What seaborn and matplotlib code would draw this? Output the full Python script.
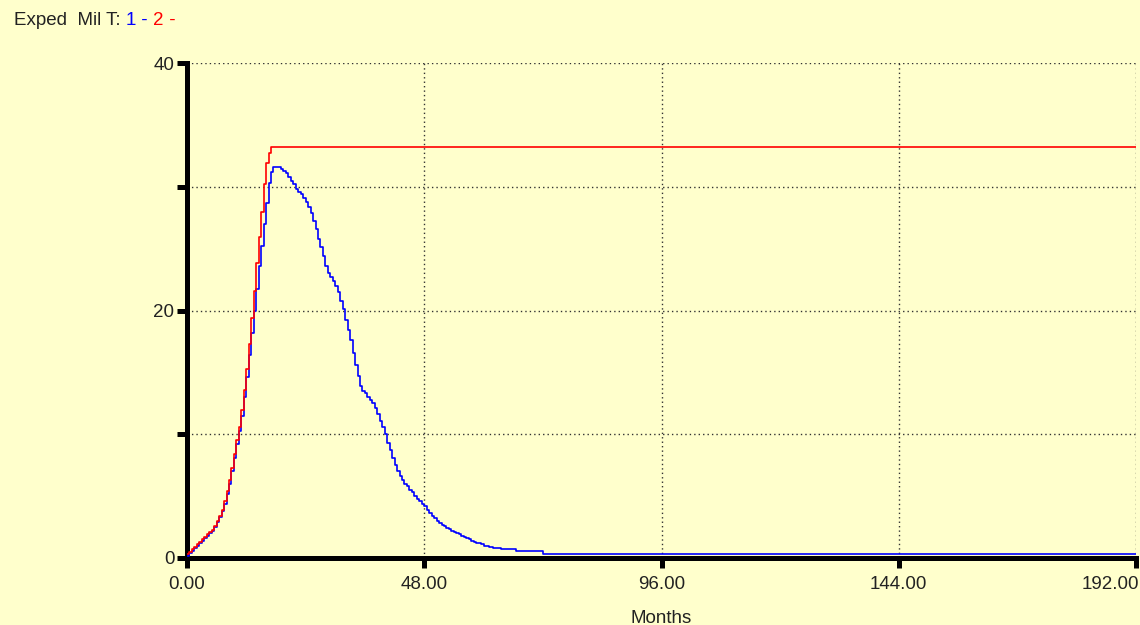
import numpy as np
import pandas as pd
import matplotlib
matplotlib.use("Agg")
import matplotlib.pyplot as plt
import matplotlib.transforms as mtransforms
import seaborn as sns

# ---------------- data ----------------
red_months = [0, 0.5, 1, 1.5, 2, 2.5, 3, 3.5, 4, 4.5, 5, 5.5, 6, 6.5, 7, 7.5, 8, 8.5,
              9, 9.5, 10, 10.5, 11, 11.5, 12, 12.5, 13, 13.5, 14, 14.5, 15, 15.5,
              16, 16.5, 17, 192]
red_values = [0.3, 0.5, 0.7, 0.9, 1.1, 1.3, 1.5, 1.7, 1.9, 2.1, 2.3, 2.6, 3.0, 3.4,
              3.9, 4.6, 5.4, 6.3, 7.3, 8.4, 9.5, 10.6, 12.0, 13.6, 15.3, 17.3, 19.4,
              21.6, 23.8, 25.9, 28.0, 30.2, 31.9, 32.7, 33.2, 33.2]

blue_months = [0, 0.5, 1, 1.5, 2, 2.5, 3, 3.5, 4, 4.5, 5, 5.5, 6, 6.5, 7, 7.5, 8, 8.5,
               9, 9.5, 10, 10.5, 11, 11.5, 12, 12.5, 13, 13.5, 14, 14.5, 15, 15.5,
               16, 16.5, 17, 17.5, 18, 18.5, 19, 19.5, 20, 20.5, 21, 21.5, 22, 22.5,
               23, 23.5, 24, 24.5, 25, 25.5, 26, 26.5, 27, 27.5, 28, 28.5, 29, 29.5,
               30, 30.5, 31, 31.5, 32, 32.5, 33, 33.5, 34, 34.5, 35, 35.5, 36, 36.5,
               37, 37.5, 38, 38.5, 39, 39.5, 40, 40.5, 41, 41.5, 42, 42.5, 43, 43.5,
               44, 44.5, 45, 45.5, 46, 46.5, 47, 47.5, 48, 48.5, 49, 49.5, 50, 50.5,
               51, 51.5, 52, 52.5, 53, 53.5, 54, 54.5, 55, 55.5, 56, 56.5, 57, 57.5,
               58, 58.5, 59, 59.5, 60, 60.5, 61, 62, 63.5, 66.5, 72, 192]
blue_values = [0.2, 0.4, 0.6, 0.8, 1.0, 1.2, 1.4, 1.6, 1.8, 2.0, 2.2, 2.5, 2.9, 3.3,
               3.8, 4.4, 5.2, 6.0, 7.0, 8.1, 9.2, 10.3, 11.5, 13.0, 14.6, 16.4, 18.2,
               20.0, 21.7, 23.6, 25.2, 27.0, 28.7, 30.3, 31.2, 31.6, 31.6, 31.6, 31.4,
               31.3, 31.1, 30.8, 30.5, 30.2, 29.8, 29.6, 29.4, 29.1, 28.8, 28.4, 27.9,
               27.2, 26.6, 25.8, 25.1, 24.4, 23.6, 23.0, 22.7, 22.4, 22.0, 21.5, 20.8,
               20.1, 19.2, 18.4, 17.6, 16.6, 15.6, 14.7, 13.9, 13.5, 13.3, 13.0, 12.8,
               12.5, 12.1, 11.6, 11.1, 10.6, 10.0, 9.3, 8.7, 8.1, 7.5, 7.0, 6.6, 6.3,
               6.0, 5.8, 5.5, 5.3, 5.0, 4.8, 4.6, 4.4, 4.2, 3.9, 3.6, 3.4, 3.2, 3.0,
               2.85, 2.7, 2.6, 2.45, 2.35, 2.2, 2.1, 2.0, 1.9, 1.8, 1.7, 1.6, 1.5,
               1.4, 1.3, 1.25, 1.2, 1.1, 1.0, 0.95, 0.9, 0.8, 0.7, 0.55, 0.35, 0.35]

x_ticks = [0, 48, 96, 144, 192]
x_tick_labels = ["0.00", "48.00", "96.00", "144.00", "192.00"]
y_ticks = [0, 10, 20, 30, 40]
y_tick_labels = ["0", "", "20", "", "40"]

BG = "#FFFFCC"

sns.set_theme(style="white")
plt.rcParams['font.family'] = ['Liberation Sans', 'DejaVu Sans']

fig = plt.figure(figsize=(11.4, 6.25), dpi=100, facecolor=BG)
ax = fig.add_axes([187 / 1140, 1 - 558 / 625, (1136 - 187) / 1140, (558 - 63) / 625])
ax.set_facecolor(BG)

red_df = pd.DataFrame({"Months": red_months, "value": red_values})
blue_df = pd.DataFrame({"Months": blue_months, "value": blue_values})

sns.lineplot(data=blue_df, x="Months", y="value", ax=ax, color="#0000FF",
             linewidth=1.2, drawstyle="steps-post", estimator=None, zorder=3)
sns.lineplot(data=red_df, x="Months", y="value", ax=ax, color="#FF0000",
             linewidth=1.2, drawstyle="steps-post", estimator=None, zorder=4)

ax.set_xlim(0, 192)
ax.set_ylim(0, 40)
ax.set_xticks(x_ticks)
ax.set_xticklabels(x_tick_labels)
ax.set_yticks(y_ticks)
ax.set_yticklabels(y_tick_labels)

for s in ["top", "right"]:
    ax.spines[s].set_visible(False)
for s in ["left", "bottom"]:
    ax.spines[s].set_color("black")
    ax.spines[s].set_linewidth(3.6)
    ax.spines[s].set_capstyle("projecting")

ax.tick_params(axis="both", which="major", direction="out", length=7, width=3.6,
               color="black", labelsize=13.5, labelcolor="#222222", pad=2,
               bottom=True, left=True)
ax.tick_params(axis="x", pad=6)

# last x label sits right-aligned against the figure edge, as in the reference
last = ax.get_xticklabels()[-1]
last.set_horizontalalignment("right")
last.set_transform(last.get_transform() +
                   mtransforms.ScaledTranslation(3 / 100, 0, fig.dpi_scale_trans))

ax.grid(True, linestyle=(0, (1, 2.2)), color="#333333", linewidth=1.0)
ax.set_axisbelow(True)

ax.set_xlabel("Months", fontsize=13.5, color="#222222", labelpad=12)
ax.set_ylabel("")

# title with coloured pieces
renderer = fig.canvas.get_renderer()
pieces = [("Exped  Mil T: ", "#222222"), ("1", "#0000FF"), (" - ", "#0000FF"),
          ("2", "#FF0000"), (" -", "#FF0000")]
x = 14 / 1140
y = 1 - 25 / 625
for txt, col in pieces:
    t = fig.text(x, y, txt, color=col, fontsize=13.5, ha="left", va="baseline")
    bb = t.get_window_extent(renderer=renderer)
    x += bb.width / fig.bbox.width

fig.savefig("out.png", dpi=100, facecolor=BG)
